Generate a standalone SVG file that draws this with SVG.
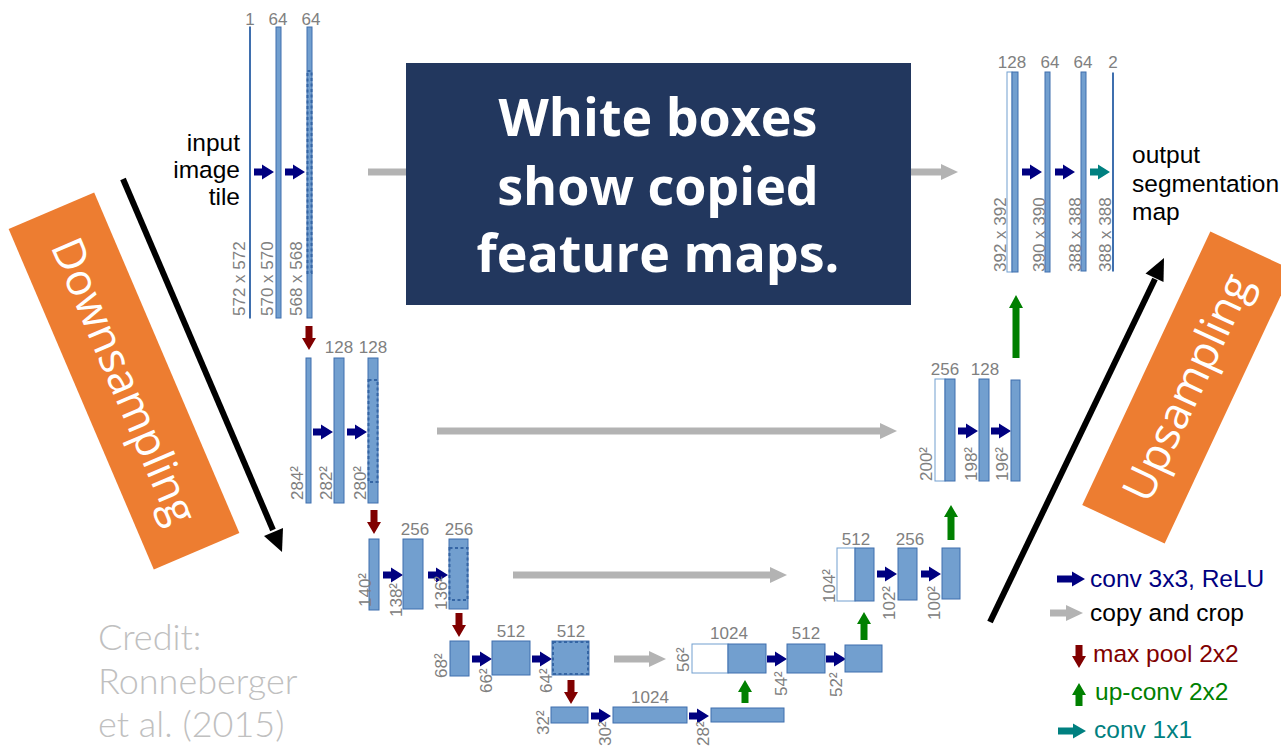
<svg xmlns="http://www.w3.org/2000/svg" xmlns:xlink="http://www.w3.org/1999/xlink" width="1281" height="747" viewBox="0 0 1281 747">
<style>
.b{fill:#729fcf;stroke:#3f6fae;stroke-width:1}
.w{fill:#ffffff;stroke:#729fcf;stroke-width:1}
.d{fill:none;stroke:#3465a4;stroke-width:2;stroke-dasharray:3 2.5}
.n{font-family:"Liberation Sans",Arial,sans-serif;font-size:17px;fill:#808080;text-anchor:middle}
.r{font-family:"Liberation Sans",Arial,sans-serif;font-size:17px;fill:#808080}
.conv{fill:#000080}
.teal{fill:#008080}
.pool{fill:#800000}
.up{fill:#008000}
.copy{fill:#b3b3b3}
.lbl{font-family:"Liberation Sans",Arial,sans-serif;font-size:24.5px;fill:#000000}
.leg{font-family:"Liberation Sans",Arial,sans-serif;font-size:24.5px}
.orange{fill:#ed7d31}
.otext{font-family:"Open Sans","DejaVu Sans",sans-serif;font-size:44px;fill:#ffffff;text-anchor:middle}
</style>
<defs>
<path id="ar" d="M0,-3.5 H8 V-7.5 L20,0 L8,7.5 V3.5 H0 Z"/>
<path id="arl" d="M0,-3.5 H15 V-7.5 L28,0 L15,7.5 V3.5 H0 Z"/>
<path id="dn" d="M-3.5,0 H3.5 V12 H7 L0,24 L-7,12 H-3.5 Z"/>
</defs>

<!-- connectors -->
<g id="connectors">
  <!-- copy and crop -->
  <path class="copy" d="M368,168.5 H941 V164 L958,172 L941,180 V175.5 H368 Z"/>
  <path class="copy" d="M437,427.5 H880 V423 L897,431 L880,439 V434.5 H437 Z"/>
  <path class="copy" d="M513,571.5 H770 V567 L787,575 L770,583 V578.5 H513 Z"/>
  <path class="copy" d="M614,655.5 H649 V651 L666,659 L649,667 V662.5 H614 Z"/>
  <!-- conv 3x3 -->
  <use href="#ar" class="conv" x="254" y="172"/>
  <use href="#ar" class="conv" x="285" y="172"/>
  <use href="#ar" class="conv" x="1022" y="172"/>
  <use href="#ar" class="conv" x="1055" y="172"/>
  <use href="#ar" class="teal" x="1090" y="172"/>
  <use href="#ar" class="conv" x="313" y="432"/>
  <use href="#ar" class="conv" x="347" y="432"/>
  <use href="#ar" class="conv" x="958" y="431"/>
  <use href="#ar" class="conv" x="991" y="431"/>
  <use href="#ar" class="conv" x="383" y="575"/>
  <use href="#ar" class="conv" x="428" y="575"/>
  <use href="#ar" class="conv" x="877" y="574"/>
  <use href="#ar" class="conv" x="921" y="574"/>
  <use href="#ar" class="conv" x="472" y="659"/>
  <use href="#ar" class="conv" x="532" y="659"/>
  <use href="#ar" class="conv" x="767" y="659"/>
  <use href="#ar" class="conv" x="826" y="659"/>
  <use href="#ar" class="conv" x="591" y="716"/>
  <use href="#ar" class="conv" x="689" y="716"/>
  <!-- max pool -->
  <use href="#dn" class="pool" x="309" y="326"/>
  <use href="#dn" class="pool" x="374" y="510"/>
  <use href="#dn" class="pool" x="459" y="613"/>
  <use href="#dn" class="pool" x="571" y="680"/>
  <!-- up-conv -->
  <path class="up" d="M741.5,703 V692 H738 L745,680 L752,692 H748.5 V703 Z"/>
  <path class="up" d="M860.5,640 V624 H857 L864,612 L871,624 H867.5 V640 Z"/>
  <path class="up" d="M947.5,540 V517 H944 L951,505 L958,517 H954.5 V540 Z"/>
  <path class="up" d="M1012.5,358 V308 H1009 L1016,295 L1023,308 H1019.5 V358 Z"/>
</g>

<!-- row 1 -->
<g id="r1-input">
  <rect class="b" x="249.5" y="27" width="1" height="291"/>
  <text class="n" x="250" y="25">1</text>
  <text class="r" transform="translate(245,316) rotate(-90)">572 x 572</text>
</g>
<g id="r1-c1">
  <rect class="b" x="276" y="27" width="5" height="291"/>
  <text class="n" x="278" y="25">64</text>
  <text class="r" transform="translate(273,316) rotate(-90)">570 x 570</text>
</g>
<g id="r1-c2">
  <rect class="b" x="307" y="27" width="5" height="291"/>
  <rect class="d" x="307.5" y="71" width="4" height="202"/>
  <text class="n" x="311" y="25">64</text>
  <text class="r" transform="translate(302,316) rotate(-90)">568 x 568</text>
</g>
<g id="input-label">
  <text class="lbl" text-anchor="end" x="240" y="151">input</text>
  <text class="lbl" text-anchor="end" x="240" y="178">image</text>
  <text class="lbl" text-anchor="end" x="240" y="205">tile</text>
</g>

<!-- row 2 -->
<g id="r2-p">
  <rect class="b" x="306" y="358" width="5" height="145"/>
  <text class="r" transform="translate(303,500) rotate(-90)">284²</text>
</g>
<g id="r2-c1">
  <rect class="b" x="334" y="358" width="10" height="145"/>
  <text class="n" x="339" y="353">128</text>
  <text class="r" transform="translate(332,500) rotate(-90)">282²</text>
</g>
<g id="r2-c2">
  <rect class="b" x="368" y="358" width="10" height="145"/>
  <rect class="d" x="368.5" y="380" width="9" height="102"/>
  <text class="n" x="373" y="353">128</text>
  <text class="r" transform="translate(366,500) rotate(-90)">280²</text>
</g>

<!-- row 3 -->
<g id="r3-p">
  <rect class="b" x="369" y="539" width="10" height="71"/>
  <text class="r" transform="translate(371,607) rotate(-90)">140²</text>
</g>
<g id="r3-c1">
  <rect class="b" x="403" y="539" width="20" height="70"/>
  <text class="n" x="415" y="535">256</text>
  <text class="r" transform="translate(402,617) rotate(-90)">138²</text>
</g>
<g id="r3-c2">
  <rect class="b" x="449" y="539" width="19" height="70"/>
  <rect class="d" x="449.5" y="548" width="18" height="52"/>
  <text class="n" x="459" y="535">256</text>
  <text class="r" transform="translate(447,610) rotate(-90)">136²</text>
</g>

<!-- row 4 -->
<g id="r4-p">
  <rect class="b" x="450" y="641" width="19" height="35"/>
  <text class="r" transform="translate(447,678) rotate(-90)">68²</text>
</g>
<g id="r4-c1">
  <rect class="b" x="492" y="641" width="38" height="34"/>
  <text class="n" x="511" y="637">512</text>
  <text class="r" transform="translate(492,693) rotate(-90)">66²</text>
</g>
<g id="r4-c2">
  <rect class="b" x="552" y="641" width="37" height="34"/>
  <rect class="d" x="553" y="642" width="35" height="32"/>
  <text class="n" x="571" y="637">512</text>
  <text class="r" transform="translate(552,693) rotate(-90)">64²</text>
</g>

<!-- row 5 -->
<g id="r5-p">
  <rect class="b" x="551" y="707" width="37" height="16"/>
  <text class="r" transform="translate(549,735) rotate(-90)">32²</text>
</g>
<g id="r5-c1">
  <rect class="b" x="613" y="707" width="74" height="16"/>
  <text class="n" x="650" y="703">1024</text>
  <text class="r" transform="translate(611,746) rotate(-90)">30²</text>
</g>
<g id="r5-c2">
  <rect class="b" x="711" y="708" width="73" height="14"/>
  <text class="r" transform="translate(709,746) rotate(-90)">28²</text>
</g>

<!-- row 4 right -->
<g id="r4r-cat">
  <rect class="w" x="692" y="644" width="36" height="29"/>
  <rect class="b" x="728" y="644" width="38" height="29"/>
  <text class="n" x="729" y="639">1024</text>
  <text class="r" transform="translate(689,672) rotate(-90)">56²</text>
</g>
<g id="r4r-c1">
  <rect class="b" x="787" y="644" width="38" height="29"/>
  <text class="n" x="806" y="639">512</text>
  <text class="r" transform="translate(787,696) rotate(-90)">54²</text>
</g>
<g id="r4r-c2">
  <rect class="b" x="845" y="645" width="37" height="27"/>
  <text class="r" transform="translate(842,697) rotate(-90)">52²</text>
</g>

<!-- row 3 right -->
<g id="r3r-cat">
  <rect class="w" x="837" y="548" width="18" height="53"/>
  <rect class="b" x="855" y="548" width="19" height="53"/>
  <text class="n" x="856" y="545">512</text>
  <text class="r" transform="translate(835,603) rotate(-90)">104²</text>
</g>
<g id="r3r-c1">
  <rect class="b" x="898" y="548" width="19" height="52"/>
  <text class="n" x="910" y="545">256</text>
  <text class="r" transform="translate(895,620) rotate(-90)">102²</text>
</g>
<g id="r3r-c2">
  <rect class="b" x="942" y="548" width="18" height="51"/>
  <text class="r" transform="translate(940,620) rotate(-90)">100²</text>
</g>

<!-- row 2 right -->
<g id="r2r-cat">
  <rect class="w" x="935" y="379" width="10" height="102"/>
  <rect class="b" x="945" y="379" width="10" height="102"/>
  <text class="n" x="945" y="375">256</text>
  <text class="r" transform="translate(932,481) rotate(-90)">200²</text>
</g>
<g id="r2r-c1">
  <rect class="b" x="979" y="379" width="10" height="102"/>
  <text class="n" x="985" y="375">128</text>
  <text class="r" transform="translate(977,481) rotate(-90)">198²</text>
</g>
<g id="r2r-c2">
  <rect class="b" x="1011" y="380" width="9" height="101"/>
  <text class="r" transform="translate(1008,481) rotate(-90)">196²</text>
</g>

<!-- row 1 right -->
<g id="r1r-cat">
  <rect class="w" x="1007" y="72" width="5" height="200"/>
  <rect class="b" x="1012" y="72" width="6" height="200"/>
  <text class="n" x="1012" y="68">128</text>
  <text class="r" transform="translate(1006,272) rotate(-90)">392 x 392</text>
</g>
<g id="r1r-c1">
  <rect class="b" x="1045" y="72" width="5" height="200"/>
  <text class="n" x="1050" y="68">64</text>
  <text class="r" transform="translate(1045,272) rotate(-90)">390 x 390</text>
</g>
<g id="r1r-c2">
  <rect class="b" x="1081" y="72" width="5" height="199"/>
  <text class="n" x="1083" y="68">64</text>
  <text class="r" transform="translate(1081,272) rotate(-90)">388 x 388</text>
</g>
<g id="r1r-out">
  <rect class="b" x="1112.5" y="73" width="1" height="198"/>
  <text class="n" x="1113" y="68">2</text>
  <text class="r" transform="translate(1111,272) rotate(-90)">388 x 388</text>
</g>
<g id="output-label">
  <text class="lbl" x="1132" y="163">output</text>
  <text class="lbl" x="1132" y="192">segmentation</text>
  <text class="lbl" x="1132" y="220">map</text>
</g>

<!-- callout box -->
<g id="callout">
  <rect x="406" y="63" width="505" height="242" fill="#22375e"/>
  <g font-family="'Open Sans','DejaVu Sans',sans-serif" font-size="52" font-weight="700" fill="#ffffff" text-anchor="middle">
    <text x="658" y="136">White boxes</text>
    <text x="658" y="205">show copied</text>
    <text x="658" y="272">feature maps.</text>
  </g>
</g>

<!-- downsampling -->
<g id="downsampling">
  <g transform="translate(124,381) rotate(66.9)">
    <rect class="orange" x="-185" y="-46.5" width="370" height="93"/>
    <text class="otext" x="0" y="15">Downsampling</text>
  </g>
  <line x1="123" y1="179" x2="273" y2="530" stroke="#000" stroke-width="6"/>
  <polygon points="282,552 264,536 283,528" fill="#000"/>
</g>

<!-- upsampling -->
<g id="upsampling">
  <g transform="translate(1187.5,387.5) rotate(-64.9)">
    <rect class="orange" x="-151" y="-45.5" width="302" height="91"/>
    <text class="otext" x="0" y="15">Upsampling</text>
  </g>
  <line x1="990" y1="622" x2="1155" y2="279" stroke="#000" stroke-width="6"/>
  <polygon points="1164,258 1145.5,273.5 1163.5,282" fill="#000"/>
</g>

<!-- legend -->
<g id="legend">
  <use href="#arl" class="conv" x="1057" y="579"/>
  <text class="leg" x="1090" y="587" fill="#000080">conv 3x3, ReLU</text>
  <path class="copy" d="M1050,609.5 H1066 V605 L1083,613 L1066,621 V616.5 H1050 Z"/>
  <text class="leg" x="1090" y="621" fill="#000000">copy and crop</text>
  <path class="pool" d="M1075.5,645 H1082.5 V656 H1086 L1079,668 L1072,656 H1075.5 Z"/>
  <text class="leg" x="1093" y="662" fill="#800000">max pool 2x2</text>
  <path class="up" d="M1075.5,706 V695 H1072 L1079,683 L1086,695 H1082.5 V706 Z"/>
  <text class="leg" x="1095" y="700" fill="#008000">up-conv 2x2</text>
  <use href="#arl" class="teal" x="1058" y="731"/>
  <text class="leg" x="1094" y="738" fill="#008080">conv 1x1</text>
</g>

<!-- credit -->
<g id="credit" font-family="Lato,'Open Sans',sans-serif" font-weight="300" font-size="36" fill="#c0c0c0">
  <text x="98" y="650">Credit:</text>
  <text x="98" y="694">Ronneberger</text>
  <text x="98" y="737">et al. (2015)</text>
</g>
</svg>
